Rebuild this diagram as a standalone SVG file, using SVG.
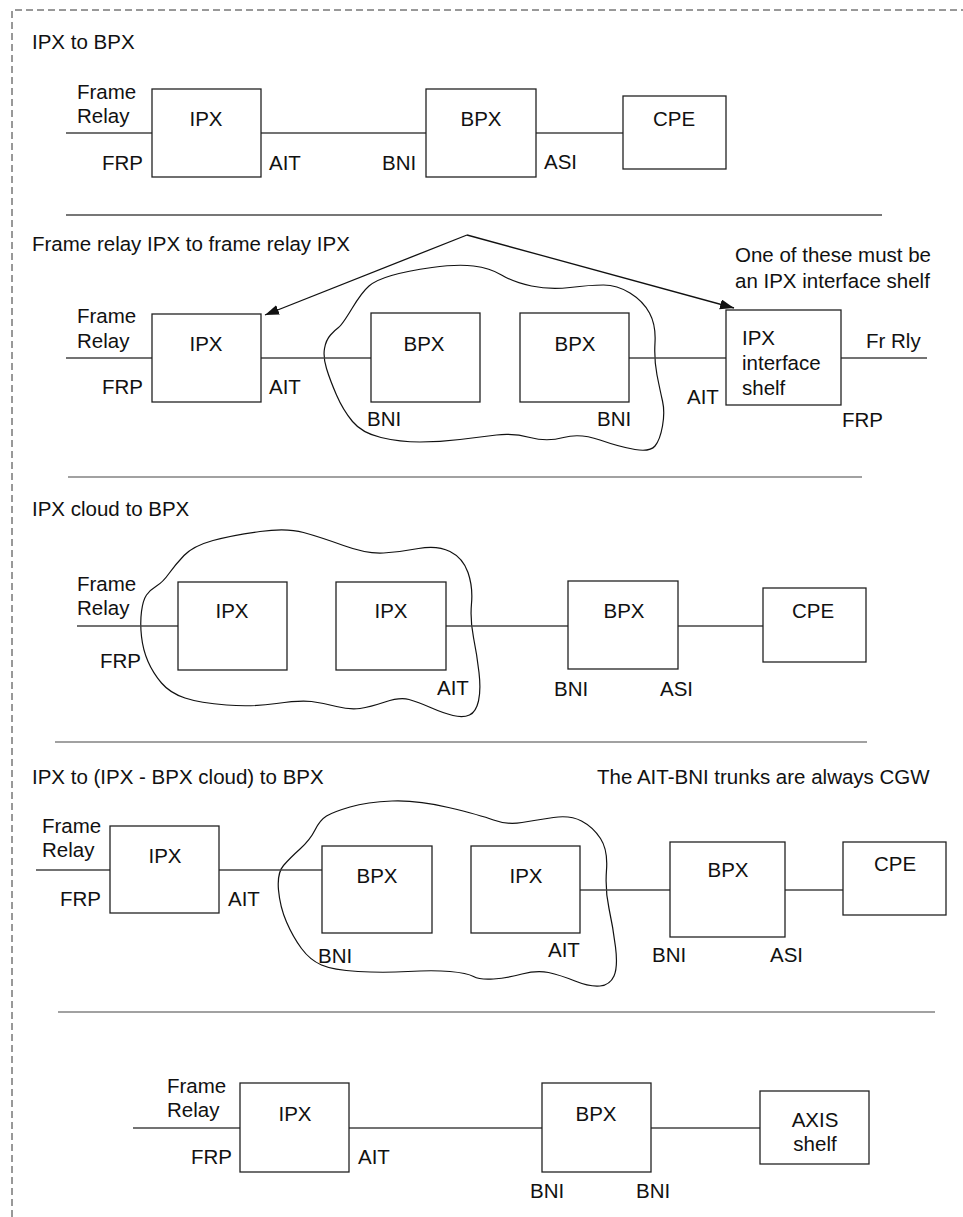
<svg xmlns="http://www.w3.org/2000/svg" width="963" height="1217" viewBox="0 0 963 1217">
<style>
text{font-family:"Liberation Sans",Arial,sans-serif;font-size:20.5px;fill:#111}
.c{text-anchor:middle}
.box{fill:#fff;stroke:#222;stroke-width:1.3}
.wire{stroke:#444;stroke-width:1.3;fill:none}
.sep{stroke:#444;stroke-width:1.2}
.cloud{fill:none;stroke:#111;stroke-width:1.2}
.arr{stroke:#111;stroke-width:1.3;fill:none;marker-end:url(#ah)}
</style>
<defs>
<marker id="ah" markerUnits="userSpaceOnUse" markerWidth="16" markerHeight="12" refX="14" refY="5" orient="auto"><path d="M0,0 L14,5 L0,10 Z" fill="#111"/></marker>
</defs>
<rect width="963" height="1217" fill="#fff"/>
<path d="M12,1217 V10 H963" fill="none" stroke="#333" stroke-width="1" stroke-dasharray="7,4"/>
<g id="separators">
<line class="sep" x1="66" y1="215" x2="882" y2="215" style="stroke:#777;stroke-width:2"/>
<line class="sep" x1="68" y1="477" x2="862" y2="477"/>
<line class="sep" x1="55" y1="742" x2="867" y2="742"/>
<line class="sep" x1="58" y1="1012" x2="935" y2="1012"/>
</g>
<g id="titles">
<text x="32" y="49">IPX to BPX</text>
<text x="32" y="251">Frame relay IPX to frame relay IPX</text>
<text x="32" y="516">IPX cloud to BPX</text>
<text x="32" y="784">IPX to (IPX - BPX cloud) to BPX</text>
<text x="597" y="784">The AIT-BNI trunks are always CGW</text>
<text x="735" y="262">One of these must be</text>
<text x="735" y="288">an IPX interface shelf</text>
</g>
<g id="clouds">
<path class="cloud" d="M338.5,327.5 Q342,325 352,308.5 Q362,292 369,286 Q376,280 391.5,275.5 Q407,271 432,267.5 Q457,264 473.5,266 Q490,268 501.5,275 Q513,282 531.5,286 Q550,290 570,287.5 Q590,285 603.5,285 Q617,285 630,293 Q643,301 649.5,313 Q656,325 655,342.5 Q654,360 657,375 Q660,390 662.5,401 Q665,412 662.5,426 Q660,440 655,446 Q650,452 635,449.5 Q620,447 600,440 Q580,433 563.5,437.5 Q547,442 530,437.5 Q513,433 496.5,435 Q480,437 460,439.5 Q440,442 420,442 Q400,442 381,437.5 Q362,433 352.5,421.5 Q343,410 336.5,395 Q330,380 326.5,368.5 Q323,357 324.5,348.5 Q326,340 330.5,335 Q335,330 338.5,327.5 Z"/>
<path class="cloud" d="M141.5,636.5 Q140,623 141.5,611.5 Q143,600 146.5,595 Q150,590 156.5,586 Q163,582 169,573.5 Q175,565 184,555.5 Q193,546 213,540.5 Q233,535 260,531.5 Q287,528 303.5,532.5 Q320,537 343.5,545.5 Q367,554 383.5,553 Q400,552 418.5,548.5 Q437,545 450,551.5 Q463,558 468,572.5 Q473,587 471.5,603.5 Q470,620 473.5,637.5 Q477,655 479,672.5 Q481,690 478.5,701 Q476,712 469.5,715 Q463,718 453,715.5 Q443,713 430.5,707.5 Q418,702 409,699.5 Q400,697 385,702 Q370,707 360,708.5 Q350,710 336.5,706.5 Q323,703 311.5,701.5 Q300,700 276.5,703.5 Q253,707 226.5,705 Q200,703 185,698 Q170,693 161.5,683 Q153,673 148,661.5 Q143,650 141.5,636.5 Z"/>
<path class="cloud" d="M278.5,890 Q277,873 283.5,865.5 Q290,858 300,849 Q310,840 315,830 Q320,820 326.5,816 Q333,812 350,807 Q367,802 392,801 Q417,800 448.5,807.5 Q480,815 493.5,820 Q507,825 522,822.5 Q537,820 553.5,817.5 Q570,815 581.5,821 Q593,827 600.5,838.5 Q608,850 606.5,870 Q605,890 609,908.5 Q613,927 615.5,947 Q618,967 614,976 Q610,985 600,986 Q590,987 575,981 Q560,975 548.5,972.5 Q537,970 522,974 Q507,978 493.5,979 Q480,980 473.5,976.5 Q467,973 450,971.5 Q433,970 408,971.5 Q383,973 358,971.5 Q333,970 321.5,965 Q310,960 301.5,948.5 Q293,937 286.5,922 Q280,907 278.5,890 Z"/>
</g>
<g id="connectors">
<line class="wire" x1="66" y1="133" x2="152" y2="133"/>
<line class="wire" x1="261" y1="133" x2="426" y2="133"/>
<line class="wire" x1="536" y1="133" x2="623" y2="133"/>
<line class="wire" x1="66" y1="358" x2="152" y2="358"/>
<line class="wire" x1="261" y1="358" x2="371" y2="358"/>
<line class="wire" x1="629" y1="358" x2="726" y2="358"/>
<line class="wire" x1="841" y1="358" x2="927" y2="358"/>
<line class="arr" x1="467" y1="235" x2="265" y2="315"/>
<line class="arr" x1="467" y1="235" x2="734" y2="308"/>
<line class="wire" x1="77" y1="626" x2="178" y2="626"/>
<line class="wire" x1="446" y1="626" x2="568" y2="626"/>
<line class="wire" x1="678" y1="626" x2="763" y2="626"/>
<line class="wire" x1="36" y1="870" x2="110" y2="870"/>
<line class="wire" x1="219" y1="870" x2="322" y2="870"/>
<line class="wire" x1="580" y1="890" x2="670" y2="890"/>
<line class="wire" x1="785" y1="890" x2="843" y2="890"/>
<line class="wire" x1="133" y1="1128" x2="240" y2="1128"/>
<line class="wire" x1="349" y1="1128" x2="542" y2="1128"/>
<line class="wire" x1="651" y1="1128" x2="760" y2="1128"/>
</g>
<g id="s1-ipx"><rect class="box" x="152" y="89" width="109" height="88"/><text class="c" x="206" y="126">IPX</text></g>
<g id="s1-bpx"><rect class="box" x="426" y="89" width="110" height="88"/><text class="c" x="481" y="126">BPX</text></g>
<g id="s1-cpe"><rect class="box" x="623" y="96" width="103" height="73"/><text class="c" x="674" y="126">CPE</text></g>
<g id="s1-labels">
<text x="77" y="99">Frame</text><text x="77" y="123">Relay</text>
<text x="102" y="170">FRP</text><text x="269" y="170">AIT</text>
<text x="382" y="170">BNI</text><text x="544" y="169">ASI</text>
</g>
<g id="s2-ipx"><rect class="box" x="152" y="314" width="109" height="88"/><text class="c" x="206" y="351">IPX</text></g>
<g id="s2-bpx1"><rect class="box" x="371" y="313" width="109" height="89"/><text class="c" x="424" y="351">BPX</text></g>
<g id="s2-bpx2"><rect class="box" x="520" y="313" width="109" height="89"/><text class="c" x="575" y="351">BPX</text></g>
<g id="s2-shelf"><rect class="box" x="726" y="310" width="115" height="95"/><text x="742" y="345">IPX</text><text x="742" y="370">interface</text><text x="742" y="395">shelf</text></g>
<g id="s2-labels">
<text x="77" y="323">Frame</text><text x="77" y="348">Relay</text>
<text x="102" y="394">FRP</text><text x="269" y="394">AIT</text>
<text x="367" y="426">BNI</text><text x="597" y="426">BNI</text>
<text x="687" y="404">AIT</text><text x="842" y="427">FRP</text>
<text x="866" y="348">Fr Rly</text>
</g>
<g id="s3-ipx1"><rect class="box" x="178" y="582" width="109" height="88"/><text class="c" x="232" y="618">IPX</text></g>
<g id="s3-ipx2"><rect class="box" x="336" y="582" width="110" height="88"/><text class="c" x="391" y="618">IPX</text></g>
<g id="s3-bpx"><rect class="box" x="568" y="581" width="110" height="88"/><text class="c" x="624" y="618">BPX</text></g>
<g id="s3-cpe"><rect class="box" x="763" y="588" width="103" height="74"/><text class="c" x="813" y="618">CPE</text></g>
<g id="s3-labels">
<text x="77" y="591">Frame</text><text x="77" y="615">Relay</text>
<text x="100" y="668">FRP</text><text x="437" y="695">AIT</text>
<text x="554" y="696">BNI</text><text x="660" y="696">ASI</text>
</g>
<g id="s4-ipx"><rect class="box" x="110" y="826" width="109" height="87"/><text class="c" x="165" y="863">IPX</text></g>
<g id="s4-bpx1"><rect class="box" x="322" y="846" width="110" height="87"/><text class="c" x="377" y="883">BPX</text></g>
<g id="s4-ipx2"><rect class="box" x="471" y="846" width="109" height="87"/><text class="c" x="526" y="883">IPX</text></g>
<g id="s4-bpx2"><rect class="box" x="670" y="842" width="115" height="95"/><text class="c" x="728" y="877">BPX</text></g>
<g id="s4-cpe"><rect class="box" x="843" y="842" width="103" height="73"/><text class="c" x="895" y="871">CPE</text></g>
<g id="s4-labels">
<text x="42" y="833">Frame</text><text x="42" y="857">Relay</text>
<text x="60" y="906">FRP</text><text x="228" y="906">AIT</text>
<text x="318" y="963">BNI</text><text x="548" y="957">AIT</text>
<text x="652" y="962">BNI</text><text x="770" y="962">ASI</text>
</g>
<g id="s5-ipx"><rect class="box" x="240" y="1083" width="109" height="89"/><text class="c" x="295" y="1121">IPX</text></g>
<g id="s5-bpx"><rect class="box" x="542" y="1083" width="109" height="89"/><text class="c" x="596" y="1121">BPX</text></g>
<g id="s5-axis"><rect class="box" x="760" y="1091" width="109" height="73"/><text class="c" x="815" y="1127">AXIS</text><text class="c" x="815" y="1151">shelf</text></g>
<g id="s5-labels">
<text x="167" y="1093">Frame</text><text x="167" y="1117">Relay</text>
<text x="191" y="1164">FRP</text><text x="358" y="1164">AIT</text>
<text x="530" y="1198">BNI</text><text x="636" y="1198">BNI</text>
</g>
</svg>
